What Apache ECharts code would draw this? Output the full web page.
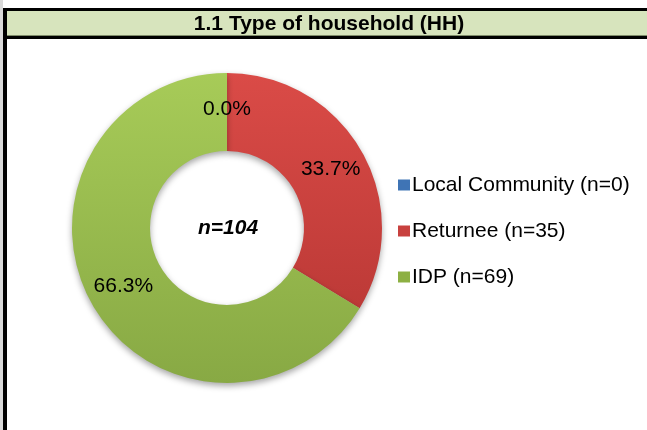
<!DOCTYPE html>
<html>
<head>
<meta charset="utf-8">
<style>
html,body{margin:0;padding:0;background:#fff;}
#c{width:647px;height:430px;}
</style>
<script src="https://cdn.jsdelivr.net/npm/echarts@6/dist/echarts.min.js"></script>
</head>
<body>
<div id="c"></div>
<script>
var categories = ['Local Community (n=0)', 'Returnee (n=35)', 'IDP (n=69)'];
var values = [0, 35, 69];
var totalLabel = 'n=104';
var titleText = '1.1 Type of household (HH)';

var FONT = "'Liberation Sans', Arial, sans-serif";
var total = values.reduce(function(a,b){return a+b;},0);

function grad(top, bottom){
  return new echarts.graphic.LinearGradient(0,0,0,1,[{offset:0,color:top},{offset:1,color:bottom}]);
}
var colors = [grad('#5A8ED0','#3F6FA8'), grad('#DA4B47','#BD3A37'), grad('#A7CB58','#88A944')];
var legendColors = ['#3F74B5','#C8413E','#8DB043'];

var data = categories.map(function(n,i){
  return {name:n, value:values[i], itemStyle:{color:colors[i]}};
});

var chart = echarts.init(document.getElementById('c'), null, {renderer:'canvas'});
chart.setOption({
  animation:false,
  color: legendColors,
  graphic:[
    {type:'rect', shape:{x:0,y:0,width:3,height:430}, style:{fill:'#D9D9D9'}, z:0},
    {type:'rect', shape:{x:3,y:8,width:4,height:422}, style:{fill:'#000'}, z:1},
    {type:'rect', shape:{x:3,y:8,width:644,height:3}, style:{fill:'#000'}, z:1},
    {type:'rect', shape:{x:7,y:11,width:640,height:24}, style:{fill:'#D7E4BD'}, z:1},
    {type:'rect', shape:{x:7,y:35,width:640,height:1}, style:{fill:'#7F8C6A'}, z:1},
    {type:'rect', shape:{x:3,y:36,width:644,height:3}, style:{fill:'#000'}, z:1},
    {type:'text', x:329, y:24, style:{text:titleText, fill:'#000', font:'bold 21px '+FONT, textAlign:'center', textVerticalAlign:'middle'}, z:2},
    {type:'text', x:228, y:228, style:{text:totalLabel, fill:'#000', font:'italic bold 21px '+FONT, textAlign:'center', textVerticalAlign:'middle'}, z:5}
  ],
  legend:{
    orient:'vertical',
    left:393, top:169,
    icon:'rect', itemWidth:12, itemHeight:11,
    itemGap:24,
    data: categories.map(function(n,i){return {name:n, itemStyle:{color:legendColors[i]}};}),
    textStyle:{fontFamily:FONT, fontSize:21, color:'#000', lineHeight:22, padding:[0,0,0,-3]}
  },
  series:[{
    type:'pie',
    center:[227,228],
    radius:[77,155],
    startAngle:90,
    clockwise:true,
    avoidLabelOverlap:false,
    stillShowZeroSum:true,
    minShowLabelAngle:0,
    itemStyle:{shadowBlur:6, shadowColor:'rgba(0,0,0,0.35)', shadowOffsetY:3, borderWidth:0},
    label:{
      show:true, position:'inside',
      fontFamily:FONT, fontSize:21, color:'#000',
      formatter:function(p){ return (p.value/total*100).toFixed(1)+'%'; }
    },
    labelLine:{show:false},
    emphasis:{disabled:true},
    data:data
  }]
});
</script>
</body>
</html>
